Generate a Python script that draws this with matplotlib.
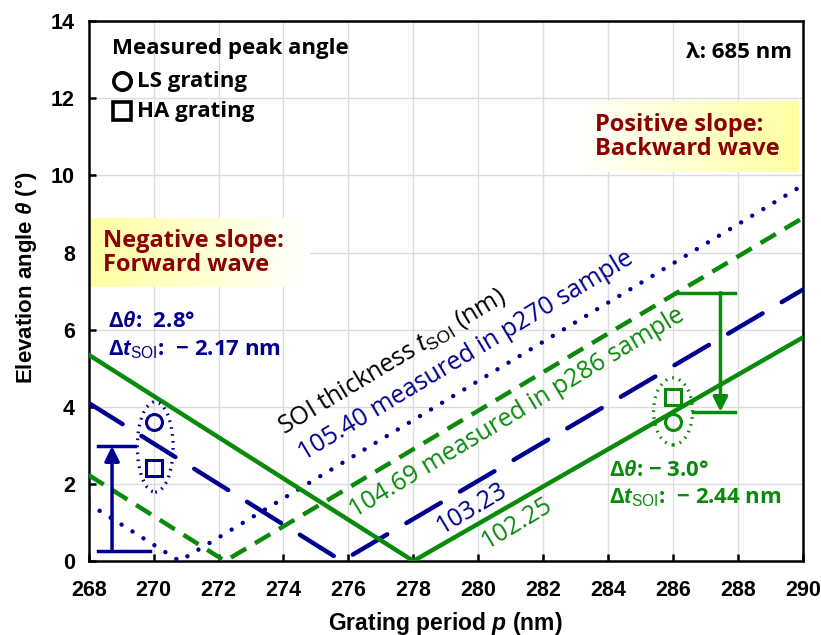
import matplotlib
matplotlib.use("Agg")
import matplotlib.pyplot as plt
import numpy as np
from matplotlib.colors import LinearSegmentedColormap
from matplotlib.patches import Ellipse

plt.rcParams["mathtext.fontset"] = "custom"
plt.rcParams["mathtext.rm"] = "Liberation Sans"
plt.rcParams["mathtext.it"] = "Liberation Sans:italic"
plt.rcParams["mathtext.bf"] = "Liberation Sans:bold"
plt.rcParams["mathtext.bfit"] = "Liberation Sans:italic:bold"

NAVY = "#000090"
GREEN = "#0a8a0a"
DRED = "#8b0000"
TXT = ["Open Sans", "DejaVu Sans"]

# V-shaped dispersion curves (vertex at theta = 0), per SOI thickness
p_10540 = [268.0, 270.8, 290.0]
th_10540 = [1.48, 0.0, 9.75]
p_10469 = [268.0, 272.2, 290.0]
th_10469 = [2.23, 0.0, 8.9]
p_10323 = [268.0, 275.8, 290.0]
th_10323 = [4.1, 0.0, 7.04]
p_10225 = [268.0, 278.0, 290.0]
th_10225 = [5.35, 0.0, 5.8]

# measured peak angles
p_meas = [270, 286]
th_ls = [3.6, 3.6]
th_ha = [2.4, 4.25]

fig = plt.figure(figsize=(8.21, 6.35), dpi=100)
ax = fig.add_axes([0.108, 0.1165, 0.870, 0.850])

ax.grid(True, color="#dcdcdc", lw=1.0, zorder=0)
ax.set_axisbelow(True)


def fade_box(x0, x1, y0, y1, yellow_left):
    g = np.linspace(0, 1, 256).reshape(1, -1)
    if yellow_left:
        g = g[:, ::-1]
    cmap = LinearSegmentedColormap.from_list("fade", ["white", "#ffffa0"])
    ax.imshow(g, extent=[x0, x1, y0, y1], aspect="auto", cmap=cmap,
              zorder=1, interpolation="bilinear")


fade_box(268.0, 274.8, 7.12, 8.9, True)
fade_box(283.0, 289.85, 10.08, 11.92, False)

ax.plot(p_10540, th_10540, color=NAVY, lw=3.2, dashes=(0.01, 2.9),
        dash_capstyle="round", zorder=3)
ax.plot(p_10469, th_10469, color=GREEN, lw=3.2, dashes=(4.0, 2.3), zorder=3)
ax.plot(p_10323, th_10323, color=NAVY, lw=3.2, dashes=(9.0, 5.0),
        dash_capstyle="round", zorder=3)
ax.plot(p_10225, th_10225, color=GREEN, lw=3.2, zorder=3)

# markers
for i, c in enumerate([NAVY, GREEN]):
    ax.plot(p_meas[i], th_ls[i], "o", ms=11.5, mfc="none", mec=c, mew=2.2, zorder=4)
    ax.plot(p_meas[i], th_ha[i], "s", ms=11.5, mfc="none", mec=c, mew=2.2, zorder=4)

ax.add_patch(Ellipse((270.05, 2.96), 1.1, 2.34, fill=False, ec=NAVY, lw=2.4,
                     ls=(0, (0.5, 1.6)), zorder=4))
ax.add_patch(Ellipse((286.0, 3.88), 1.2, 1.74, fill=False, ec=GREEN, lw=2.4,
                     ls=(0, (0.5, 1.6)), zorder=4))

# angle-shift dimension arrows
ax.plot([268.29, 269.43], [2.98, 2.98], color=NAVY, lw=2.5, zorder=4)
ax.plot([268.29, 269.9], [0.27, 0.27], color=NAVY, lw=2.5, zorder=4)
ax.annotate("", xy=(268.72, 2.98), xytext=(268.72, 0.27),
            arrowprops=dict(arrowstyle="-|>", color=NAVY, lw=2.5,
                            mutation_scale=22, shrinkA=0, shrinkB=0), zorder=4)
ax.plot([286.05, 287.9], [6.96, 6.96], color=GREEN, lw=2.5, zorder=4)
ax.plot([286.6, 287.9], [3.87, 3.87], color=GREEN, lw=2.5, zorder=4)
ax.annotate("", xy=(287.46, 3.87), xytext=(287.46, 6.96),
            arrowprops=dict(arrowstyle="-|>", color=GREEN, lw=2.5,
                            mutation_scale=22, shrinkA=0, shrinkB=0), zorder=4)

# legend block
ax.text(268.72, 13.3, "Measured peak angle", family=TXT, fontsize=16,
        fontweight="bold", va="center", ha="left", zorder=5)
ax.plot(269.03, 12.44, "o", ms=12.5, mfc="none", mec="black", mew=2.6, zorder=5)
ax.plot(269.03, 11.66, "s", ms=12.5, mfc="none", mec="black", mew=2.6, zorder=5)
ax.text(269.5, 12.44, "LS grating", family=TXT, fontsize=16,
        fontweight="bold", va="center", ha="left", zorder=5)
ax.text(269.5, 11.66, "HA grating", family=TXT, fontsize=16,
        fontweight="bold", va="center", ha="left", zorder=5)
ax.text(289.65, 13.2, "λ: 685 nm", family=TXT, fontsize=16,
        fontweight="bold", va="center", ha="right", zorder=5)

ax.text(268.45, 8.0, "Negative slope:\nForward wave", family=TXT, fontsize=17,
        fontweight="bold", color=DRED, va="center", ha="left",
        linespacing=1.0, zorder=5)
ax.text(283.6, 11.0, "Positive slope:\nBackward wave", family=TXT, fontsize=17,
        fontweight="bold", color=DRED, va="center", ha="left",
        linespacing=1.0, zorder=5)

ax.text(268.6, 6.21, r"Δ$\mathbfit{\theta}$:  2.8°", family=TXT, fontsize=16,
        fontweight="bold", color=NAVY, va="center", ha="left", zorder=5)
ax.text(268.6, 5.48, r"Δ$\mathbfit{t}_{\mathrm{SOI}}$:  − 2.17 nm", family=TXT,
        fontsize=16, fontweight="bold", color=NAVY, va="center", ha="left",
        zorder=5)
ax.text(284.04, 2.36, r"Δ$\mathbfit{\theta}$: − 3.0°", family=TXT, fontsize=16,
        fontweight="bold", color=GREEN, va="center", ha="left", zorder=5)
ax.text(284.04, 1.64, r"Δ$\mathbfit{t}_{\mathrm{SOI}}$:  − 2.44 nm", family=TXT,
        fontsize=16, fontweight="bold", color=GREEN, va="center", ha="left",
        zorder=5)

# rotated curve labels
rot = dict(rotation=31, rotation_mode="anchor", ha="center", va="center",
           family=TXT, fontsize=18, zorder=5)
ax.text(277.34, 5.19, r"SOI thickness $\mathit{t}_{\mathrm{SOI}}$ (nm)",
        color="black", **rot)
ax.text(279.62, 5.32, "105.40 measured in p270 sample", color=NAVY, **rot)
ax.text(281.18, 3.84, "104.69 measured in p286 sample", color=GREEN, **rot)
ax.text(279.8, 1.38, "103.23", color=NAVY, **rot)
ax.text(281.2, 0.98, "102.25", color=GREEN, **rot)

ax.set_xlim(268, 290)
ax.set_ylim(0, 14)
ax.set_xticks(np.arange(268, 291, 2))
ax.set_yticks(np.arange(0, 15, 2))
ax.tick_params(direction="in", length=5, width=1.8, labelsize=15.5)
ax.tick_params(axis="x", pad=14)
ax.tick_params(axis="y", pad=10)
for lab in ax.get_xticklabels() + ax.get_yticklabels():
    lab.set_fontfamily("Liberation Sans")
    lab.set_fontweight("bold")
for s in ax.spines.values():
    s.set_linewidth(1.8)

ax.set_xlabel(r"Grating period $\mathbfit{p}$ (nm)", family="Liberation Sans",
              fontsize=16.5, fontweight="bold")
ax.xaxis.set_label_coords(0.5, -0.09)
ax.set_ylabel(r"Elevation angle $\mathbfit{\theta}$ (°)", family="Liberation Sans",
              fontsize=16, fontweight="bold")
ax.yaxis.set_label_coords(-0.07, 0.525)

fig.savefig("out.png", dpi=100)
